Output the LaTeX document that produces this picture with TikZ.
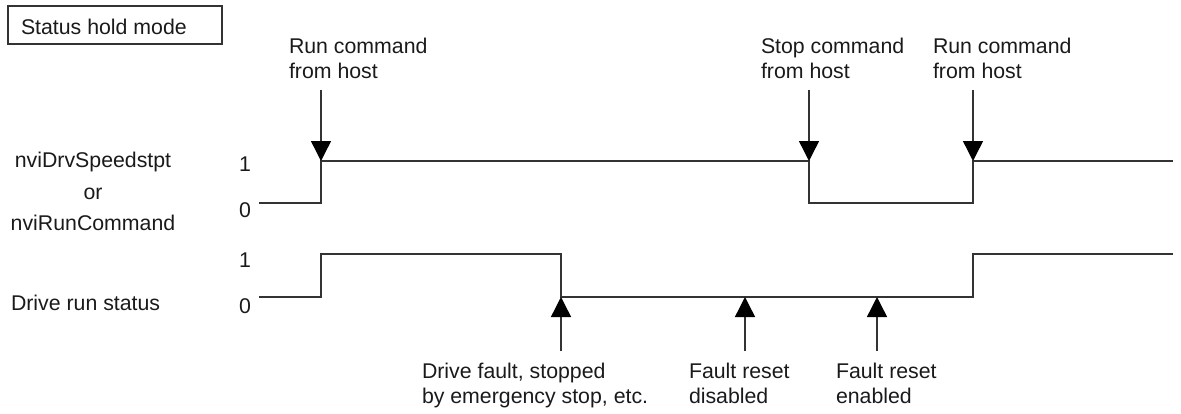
\documentclass[tikz,border=0pt]{standalone}
\usepackage{fontspec}
\setmainfont{Liberation Sans}
\usetikzlibrary{arrows.meta}
\definecolor{linegray}{HTML}{333333}
\definecolor{textblack}{HTML}{1A1A1A}
\tikzset{
  lbl/.style={inner sep=0pt, outer sep=0pt, text=textblack, font=\fontsize{21.3}{25}\selectfont, align=left, anchor=base west},
  clbl/.style={inner sep=0pt, outer sep=0pt, text=textblack, font=\fontsize{21.3}{25}\selectfont, anchor=base},
  signal/.style={draw=linegray, line width=1.4pt, line join=miter},
  marker/.style={draw=linegray, line width=1.4pt, -{Triangle[width=20pt,length=20pt,fill=black,color=black]}},
  titlebox/.style={draw=linegray, line width=1.1pt}
}
\begin{document}
\begin{tikzpicture}[x=1pt,y=-1pt]
\useasboundingbox (0,0) rectangle (1181,413);
% title box
\draw[titlebox] (8,6) rectangle (222,44);
\node[lbl] (title) at (21,34) {Status hold mode};
% left labels
\node[clbl] (sig1a) at (93,167) {nviDrvSpeedstpt};
\node[clbl] (sig1b) at (93,199) {or};
\node[clbl] (sig1c) at (93,230) {nviRunCommand};
\node[lbl] (sig2) at (11,310) {Drive run status};
\node[clbl] (h1) at (245,171) {1};
\node[clbl] (l1) at (245,217) {0};
\node[clbl] (h2) at (245,267) {1};
\node[clbl] (l2) at (245,313) {0};
% waveform coordinates
\coordinate (a0) at (259,203);
\coordinate (a1) at (321,203);
\coordinate (a2) at (321,161);
\coordinate (a3) at (809,161);
\coordinate (a4) at (809,203);
\coordinate (a5) at (973,203);
\coordinate (a6) at (973,161);
\coordinate (a7) at (1173,161);
\coordinate (b0) at (259,297);
\coordinate (b1) at (321,297);
\coordinate (b2) at (321,254);
\coordinate (b3) at (561,254);
\coordinate (b4) at (561,297);
\coordinate (b5) at (745,297);
\coordinate (b6) at (877,297);
\coordinate (b7) at (973,297);
\coordinate (b8) at (973,254);
\coordinate (b9) at (1173,254);
\draw[signal] (a0) -- (a1) -- (a2) -- (a3) -- (a4) -- (a5) -- (a6) -- (a7);
\draw[signal] (b0) -- (b1) -- (b2) -- (b3) -- (b4) -- (b7) -- (b8) -- (b9);
% top events (base anchor = baseline of last line)
\node[lbl] (run1) at (289,78) {Run command\\from host};
\node[lbl] (stop) at (761,78) {Stop command\\from host};
\node[lbl] (run2) at (933,78) {Run command\\from host};
\coordinate (t1) at (321,90);
\coordinate (t2) at (809,90);
\coordinate (t3) at (973,90);
\draw[marker] (t1) -- (a2);
\draw[marker] (t2) -- (a4 |- a3);
\draw[marker] (t3) -- (a6);
% bottom events
\node[lbl] (fault) at (422,403) {Drive fault, stopped\\by emergency stop, etc.};
\node[lbl] (rdis) at (689,403) {Fault reset\\disabled};
\node[lbl] (ren) at (836,403) {Fault reset\\enabled};
\coordinate (u1) at (561,351);
\coordinate (u2) at (745,351);
\coordinate (u3) at (877,351);
\draw[marker] (u1) -- (b4);
\draw[marker] (u2) -- (b5);
\draw[marker] (u3) -- (b6);
\end{tikzpicture}
\end{document}
